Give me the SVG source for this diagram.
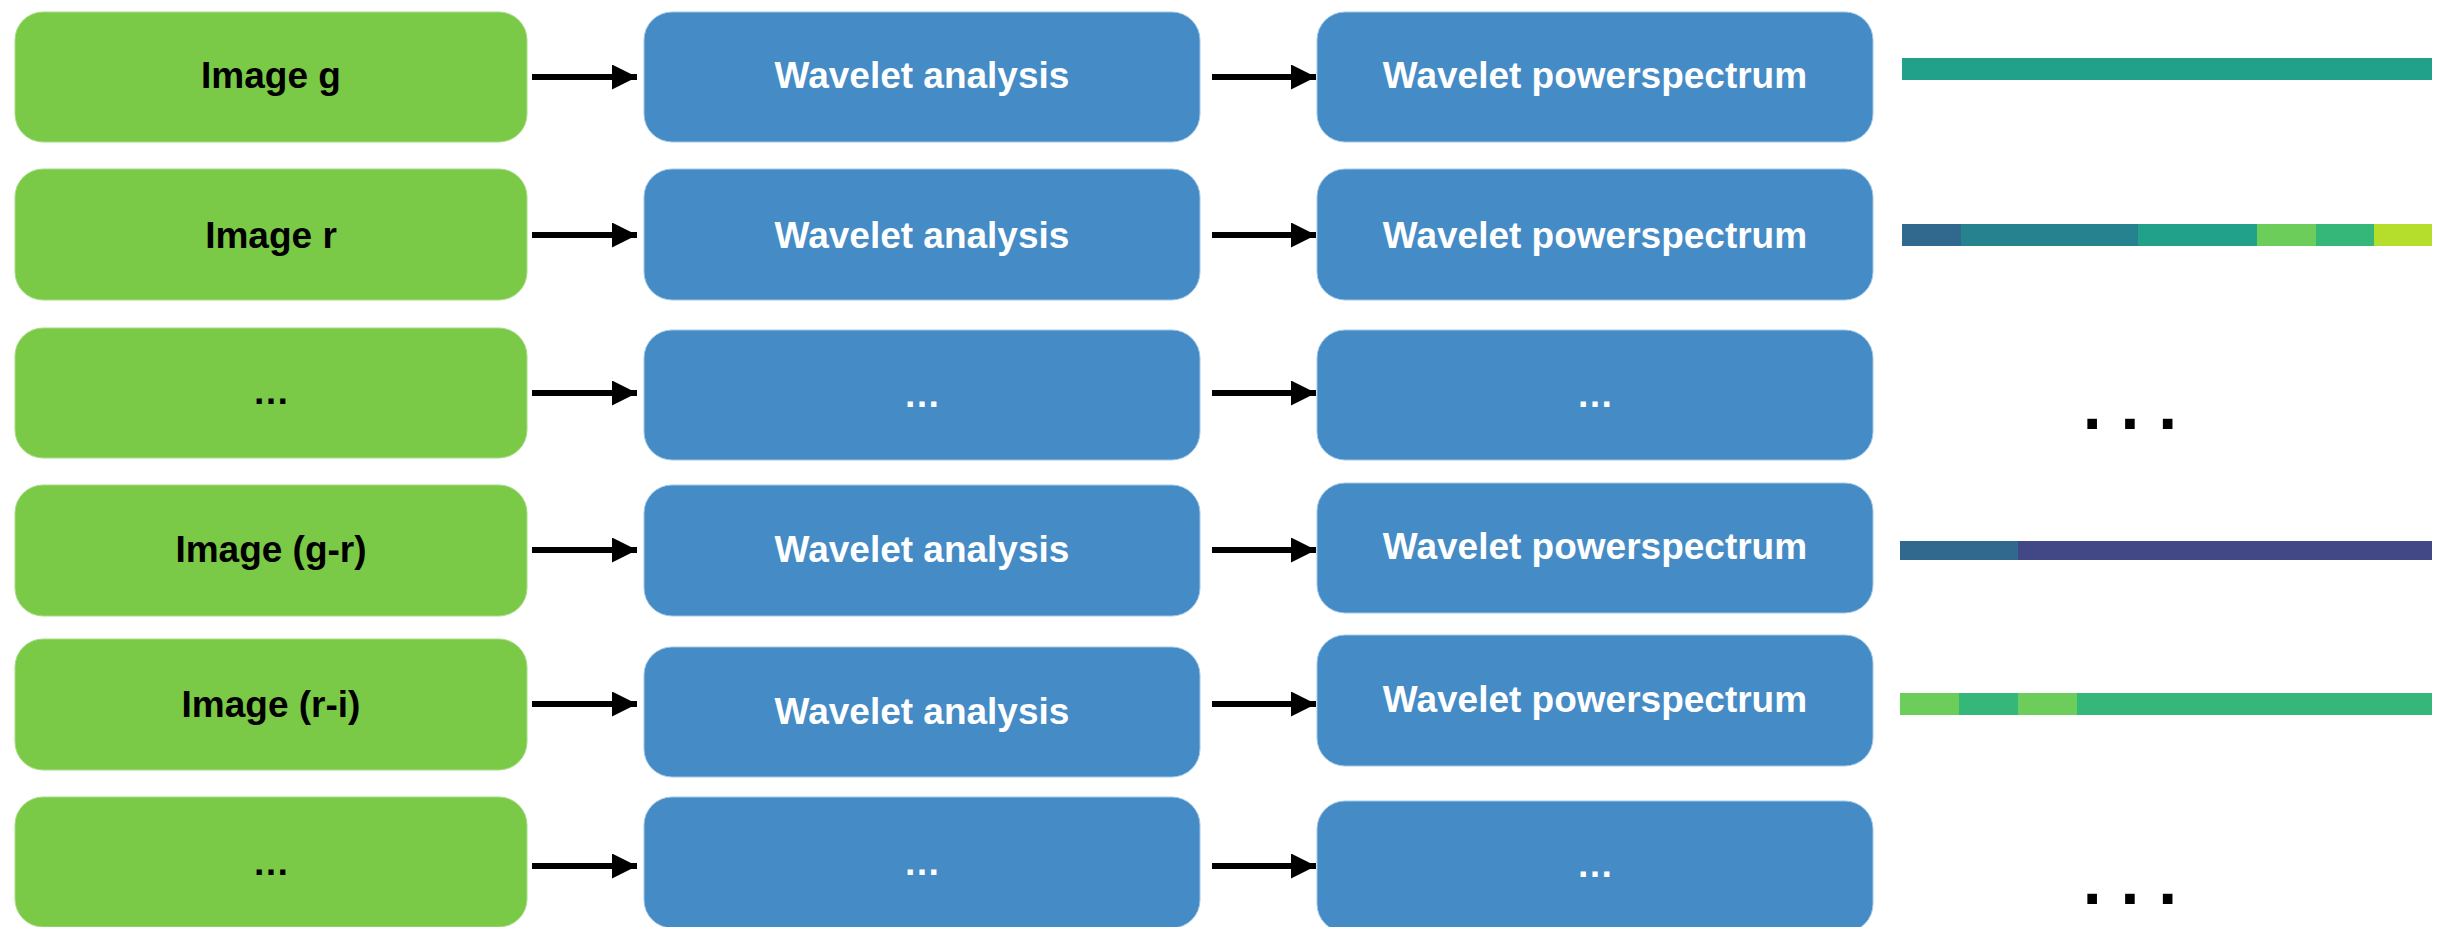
<svg xmlns="http://www.w3.org/2000/svg" width="2448" height="927" viewBox="0 0 2448 927">
<defs>
<style>
.g{fill:#7ACA47;stroke:#a6dc86;stroke-width:1}
.b{fill:#458BC5;stroke:#a3c8e8;stroke-width:1}
.tk{font-family:"Liberation Sans",Arial,sans-serif;font-weight:bold;font-size:37px;text-anchor:middle;fill:#000}
.tw{font-family:"Liberation Sans",Arial,sans-serif;font-weight:bold;font-size:37px;text-anchor:middle;fill:#fff}
.big{font-family:"Liberation Sans",Arial,sans-serif;font-weight:bold;font-size:68px;text-anchor:middle;fill:#000}
.ln{stroke:#000;stroke-width:6;fill:none}
</style>
<marker id="ah" markerUnits="userSpaceOnUse" markerWidth="26" markerHeight="26" refX="25" refY="12.5" orient="auto">
<path d="M0,0 L25,12.5 L0,25 Z" fill="#000"/>
</marker>
</defs>
<rect width="2448" height="927" fill="#fff"/>

<g id="connectors">
<path class="ln" d="M532,77 H637" marker-end="url(#ah)"/>
<path class="ln" d="M1212,77 H1316" marker-end="url(#ah)"/>
<path class="ln" d="M532,235 H637" marker-end="url(#ah)"/>
<path class="ln" d="M1212,235 H1316" marker-end="url(#ah)"/>
<path class="ln" d="M532,393 H637" marker-end="url(#ah)"/>
<path class="ln" d="M1212,393 H1316" marker-end="url(#ah)"/>
<path class="ln" d="M532,550 H637" marker-end="url(#ah)"/>
<path class="ln" d="M1212,550 H1316" marker-end="url(#ah)"/>
<path class="ln" d="M532,704 H637" marker-end="url(#ah)"/>
<path class="ln" d="M1212,704 H1316" marker-end="url(#ah)"/>
<path class="ln" d="M532,866 H637" marker-end="url(#ah)"/>
<path class="ln" d="M1212,866 H1316" marker-end="url(#ah)"/>
</g>

<!-- Row 1 -->
<g id="img-g"><rect class="g" x="15" y="12" width="512" height="130" rx="28"/><text class="tk" x="271" y="88">Image g</text></g>
<g id="wa-1"><rect class="b" x="644" y="12" width="556" height="130" rx="28"/><text class="tw" x="922" y="88">Wavelet analysis</text></g>
<g id="wp-1"><rect class="b" x="1317" y="12" width="556" height="130" rx="28"/><text class="tw" x="1595" y="88">Wavelet powerspectrum</text></g>
<g id="bar-1"><rect x="1902" y="58" width="530" height="22" fill="#21A08A"/></g>

<!-- Row 2 -->
<g id="img-r"><rect class="g" x="15" y="169" width="512" height="131" rx="28"/><text class="tk" x="271" y="248">Image r</text></g>
<g id="wa-2"><rect class="b" x="644" y="169" width="556" height="131" rx="28"/><text class="tw" x="922" y="248">Wavelet analysis</text></g>
<g id="wp-2"><rect class="b" x="1317" y="169" width="556" height="131" rx="28"/><text class="tw" x="1595" y="248">Wavelet powerspectrum</text></g>
<g id="bar-2">
<rect x="1902" y="224" width="59" height="22" fill="#31688E"/>
<rect x="1961" y="224" width="177" height="22" fill="#26828E"/>
<rect x="2138" y="224" width="119" height="22" fill="#21A08A"/>
<rect x="2257" y="224" width="59" height="22" fill="#6CCD5A"/>
<rect x="2316" y="224" width="58" height="22" fill="#35B779"/>
<rect x="2374" y="224" width="58" height="22" fill="#B4DD2C"/>
</g>

<!-- Row 3 -->
<g id="img-dots-1"><rect class="g" x="15" y="328" width="512" height="130" rx="28"/><text class="tk" x="271" y="404">…</text></g>
<g id="wa-dots-1"><rect class="b" x="644" y="330" width="556" height="130" rx="28"/><text class="tw" x="922" y="407">…</text></g>
<g id="wp-dots-1"><rect class="b" x="1317" y="330" width="556" height="130" rx="28"/><text class="tw" x="1595" y="407">…</text></g>
<g id="bar-dots-1"><text class="big" x="2130" y="429">. . .</text></g>

<!-- Row 4 -->
<g id="img-gr"><rect class="g" x="15" y="485" width="512" height="131" rx="28"/><text class="tk" x="271" y="562">Image (g-r)</text></g>
<g id="wa-4"><rect class="b" x="644" y="485" width="556" height="131" rx="28"/><text class="tw" x="922" y="562">Wavelet analysis</text></g>
<g id="wp-4"><rect class="b" x="1317" y="483" width="556" height="130" rx="28"/><text class="tw" x="1595" y="559">Wavelet powerspectrum</text></g>
<g id="bar-4">
<rect x="1900" y="541" width="118" height="19" fill="#31688E"/>
<rect x="2018" y="541" width="414" height="19" fill="#424886"/>
</g>

<!-- Row 5 -->
<g id="img-ri"><rect class="g" x="15" y="639" width="512" height="131" rx="28"/><text class="tk" x="271" y="717">Image (r-i)</text></g>
<g id="wa-5"><rect class="b" x="644" y="647" width="556" height="130" rx="28"/><text class="tw" x="922" y="724">Wavelet analysis</text></g>
<g id="wp-5"><rect class="b" x="1317" y="635" width="556" height="131" rx="28"/><text class="tw" x="1595" y="712">Wavelet powerspectrum</text></g>
<g id="bar-5">
<rect x="1900" y="693" width="59" height="22" fill="#6CCD5A"/>
<rect x="1959" y="693" width="59" height="22" fill="#35B779"/>
<rect x="2018" y="693" width="59" height="22" fill="#6CCD5A"/>
<rect x="2077" y="693" width="355" height="22" fill="#35B779"/>
</g>

<!-- Row 6 -->
<g id="img-dots-2"><rect class="g" x="15" y="797" width="512" height="130" rx="28"/><text class="tk" x="271" y="875">…</text></g>
<g id="wa-dots-2"><rect class="b" x="644" y="797" width="556" height="131" rx="28"/><text class="tw" x="922" y="875">…</text></g>
<g id="wp-dots-2"><rect class="b" x="1317" y="801" width="556" height="131" rx="28"/><text class="tw" x="1595" y="877">…</text></g>
<g id="bar-dots-2"><text class="big" x="2130" y="904">. . .</text></g>
</svg>
